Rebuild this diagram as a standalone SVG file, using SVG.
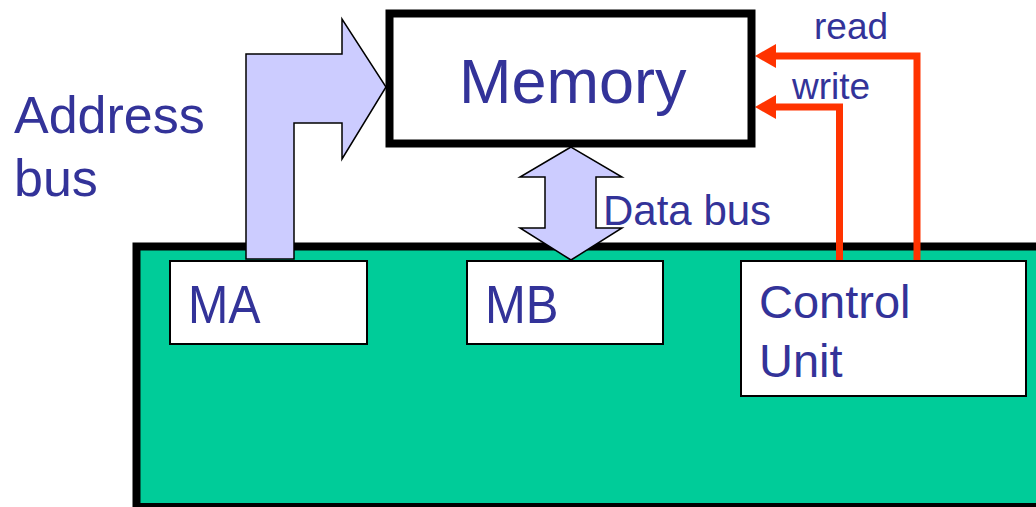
<svg xmlns="http://www.w3.org/2000/svg" width="1036" height="507" viewBox="0 0 1036 507">
  <style>
    .lbl { font-family: "Liberation Sans", Arial, sans-serif; fill: #333399; }
    .box { fill: #ffffff; stroke: #000000; stroke-width: 2; }
    .bus { fill: #ccccff; stroke: #000000; stroke-width: 1.5; stroke-linejoin: miter; }
    .sig { fill: none; stroke: #ff3300; stroke-width: 7; stroke-linejoin: miter; marker-end: url(#head); }
  </style>
  <defs>
    <marker id="head" viewBox="0 0 21 24" markerWidth="21" markerHeight="24" refX="0" refY="12" markerUnits="userSpaceOnUse" orient="auto">
      <path d="M0,0 L21,12 L0,24 Z" fill="#ff3300"/>
    </marker>
  </defs>
  <rect width="1036" height="507" fill="#ffffff"/>

  <!-- CPU body -->
  <g id="cpu">
    <rect x="136.5" y="246.5" width="920" height="260.5" fill="#00cc99" stroke="#000000" stroke-width="8"/>
  </g>

  <g id="ma">
    <rect class="box" x="170" y="261" width="197" height="83"/>
    <text class="lbl" x="188" y="323" font-size="53" textLength="72.6" lengthAdjust="spacingAndGlyphs">MA</text>
  </g>

  <g id="mb">
    <rect class="box" x="467" y="261" width="196" height="83"/>
    <text class="lbl" x="485" y="323" font-size="53" textLength="73.5" lengthAdjust="spacingAndGlyphs">MB</text>
  </g>

  <g id="control-unit">
    <rect class="box" x="741" y="261" width="285" height="135"/>
    <text class="lbl" x="759" y="318" font-size="47">Control</text>
    <text class="lbl" x="759" y="377" font-size="47">Unit</text>
  </g>

  <!-- buses and control lines -->
  <g id="connectors">
    <polygon class="bus" points="246,259 246,54 342,54 342,19 386,87 342,159 342,123 294,123 294,259"/>
    <polygon class="bus" points="571,147 520,177 545,177 545,228 520,228 571,260 622,228 596,228 596,177 622,177"/>
    <polyline class="sig" points="917,260 917,56 776,56"/>
    <polyline class="sig" points="839.5,260 839.5,107 776,107"/>
  </g>

  <g id="memory">
    <rect x="389.5" y="13.5" width="362" height="130" fill="#ffffff" stroke="#000000" stroke-width="8"/>
    <text class="lbl" x="459" y="103" font-size="63">Memory</text>
  </g>

  <g id="labels">
    <text class="lbl" x="14" y="133" font-size="52">Address</text>
    <text class="lbl" x="14" y="196" font-size="52">bus</text>
    <text class="lbl" x="603" y="225" font-size="42">Data bus</text>
    <text class="lbl" x="814" y="39" font-size="37">read</text>
    <text class="lbl" x="792" y="99" font-size="37">write</text>
  </g>
</svg>
